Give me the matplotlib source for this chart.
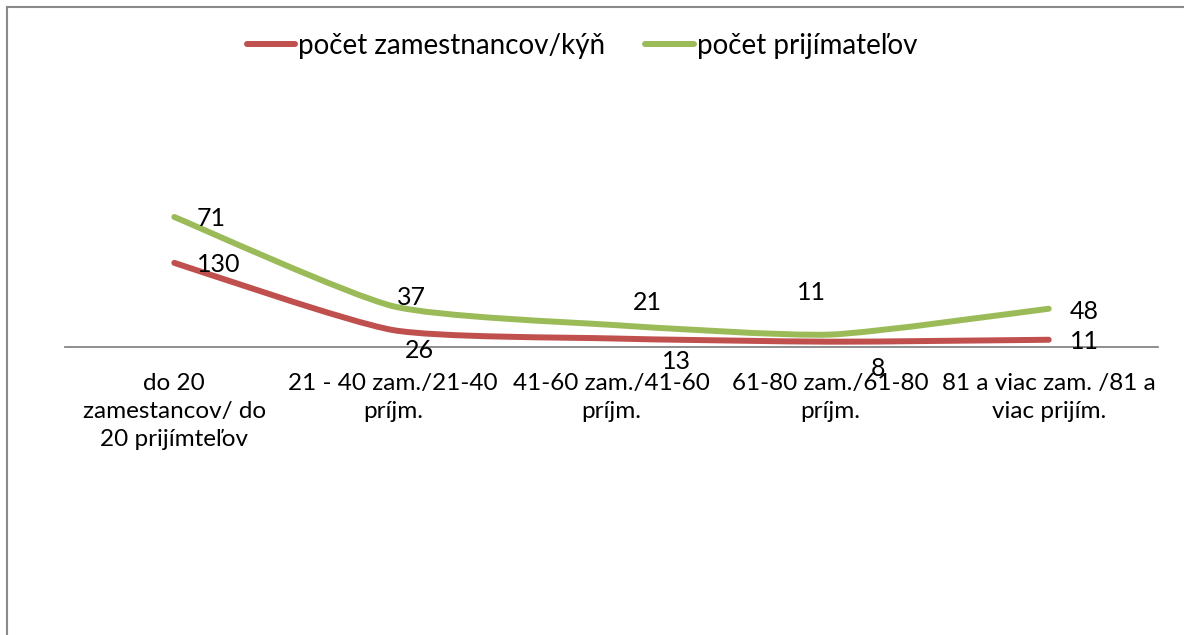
import numpy as np
import matplotlib
matplotlib.use("Agg")
import matplotlib.pyplot as plt
from matplotlib.path import Path
from matplotlib.patches import PathPatch
from matplotlib.lines import Line2D

plt.rcParams["font.family"] = ["Lato", "DejaVu Sans"]

# data
categories = [
    "do 20\nzamestancov/ do\n20 prijímteľov",
    "21 - 40 zam./21-40\npríjm.",
    "41-60 zam./41-60\npríjm.",
    "61-80 zam./61-80\npríjm.",
    "81 a viac zam. /81 a\nviac prijím.",
]
zamestnanci = [130, 26, 13, 8, 11]
prijimatelia = [71, 37, 21, 11, 48]
series_names = ["počet zamestnancov/kýň", "počet prijímateľov"]

# label offsets in pixels (dx, dy) - placement as in the original chart
off_red = [(44, -2), (27, -20), (65, -23), (48, -27), (36, -2)]
off_green = [(37, -2), (19, 9), (36, 22), (-19, 42), (36, -3)]

RED = "#C0504D"
GREEN = "#9BBB59"
FS = 18


def smooth_path(xs, ys, k=10):
    # excel-like smoothed line (catmull-rom as bezier)
    n = len(xs)
    verts = [(xs[0], ys[0])]
    codes = [Path.MOVETO]
    for i in range(n - 1):
        xa, ya = (xs[i - 1], ys[i - 1]) if i > 0 else (xs[i], ys[i])
        xb, yb = (xs[i + 2], ys[i + 2]) if i + 2 < n else (xs[i + 1], ys[i + 1])
        c1 = (xs[i] + (xs[i + 1] - xa) / k, ys[i] + (ys[i + 1] - ya) / k)
        c2 = (xs[i + 1] - (xb - xs[i]) / k, ys[i + 1] - (yb - ys[i]) / k)
        verts += [c1, c2, (xs[i + 1], ys[i + 1])]
        codes += [Path.CURVE4] * 3
    return Path(verts, codes)


W, H = 1184, 635
fig = plt.figure(figsize=(W / 100, H / 100), dpi=100)
ax = fig.add_axes([65 / W, 0, 1093 / W, 575 / H])

x = np.arange(len(categories))
y_red = np.array(zamestnanci, dtype=float)
y_green = y_red + np.array(prijimatelia)  # stacked line

for s in ["left", "right", "top"]:
    ax.spines[s].set_visible(False)
ax.spines["bottom"].set_position(("data", 0))
ax.spines["bottom"].set_color("#868686")
ax.spines["bottom"].set_linewidth(1.3)
ax.spines["bottom"].set_zorder(1)

for ys, col in [(y_red, RED), (y_green, GREEN)]:
    patch = PathPatch(smooth_path(x, ys), facecolor="none", edgecolor=col,
                      lw=4.3, capstyle="round", joinstyle="round", zorder=3)
    ax.add_patch(patch)

for vals, ys, offs in [(zamestnanci, y_red, off_red), (prijimatelia, y_green, off_green)]:
    for xi, yi, v, (dx, dy) in zip(x, ys, vals, offs):
        ax.annotate(str(v), (xi, yi), xytext=(dx, dy), textcoords="offset pixels",
                    ha="center", va="center", fontsize=FS, color="black", zorder=4)

ax.set_xlim(-0.5, len(categories) - 0.5)
ax.set_ylim(-446, 444)
ax.set_xticks(x)
ax.set_xticklabels(categories)
ax.tick_params(axis="x", length=0, pad=19, labelsize=17.5)
ax.set_yticks([])

# legend
handles = [Line2D([], [], color=RED, lw=4.3, solid_capstyle="round"),
           Line2D([], [], color=GREEN, lw=4.3, solid_capstyle="round")]
fig.legend(handles, series_names, ncol=2, loc="center",
           bbox_to_anchor=(582 / W, 1 - 46 / H), frameon=False, fontsize=20,
           handlelength=1.75, handletextpad=0.1, columnspacing=1.45)

# chart border (cut off at right/bottom)
fig.add_artist(Line2D([7 / W, 1], [1 - 7 / H, 1 - 7 / H], color="#898989", lw=1.5))
fig.add_artist(Line2D([7 / W, 7 / W], [0, 1 - 7 / H], color="#898989", lw=1.5))

# tick labels get rebuilt on draw, so set line spacing afterwards
fig.canvas.draw()
for lab in ax.get_xticklabels():
    lab.set_linespacing(1.4)

fig.savefig("out.png", dpi=100)
